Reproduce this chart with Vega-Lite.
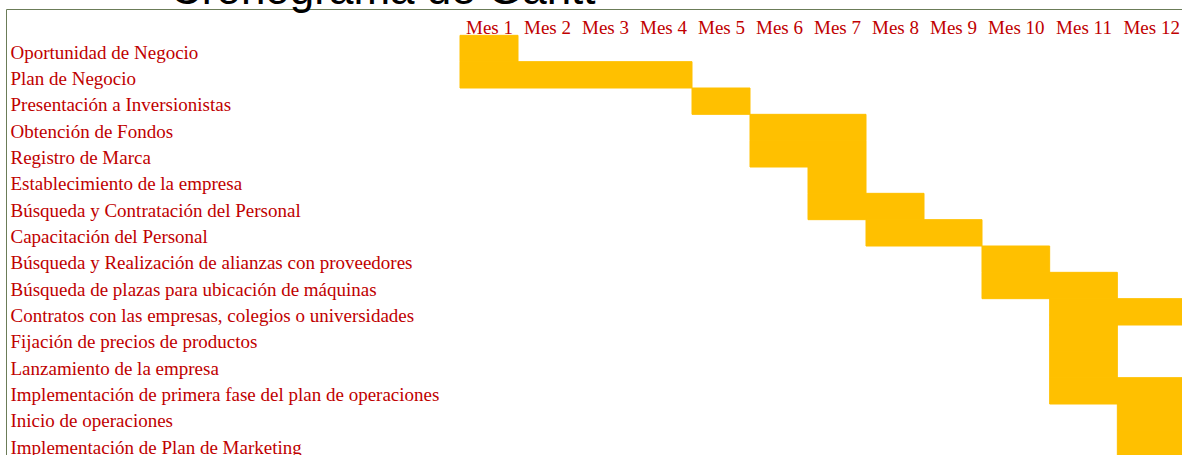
{
  "$schema": "https://vega.github.io/schema/vega-lite/v6.json",
  "autosize": {"type": "none"},
  "padding": {"left": 6, "top": 9, "right": 0, "bottom": 0},
  "width": 1180,
  "height": 474,
  "background": "white",
  "title": {
    "text": "Cronograma de Gantt",
    "font": "Liberation Sans",
    "fontSize": 44,
    "fontWeight": "normal",
    "color": "#000000",
    "anchor": "start",
    "frame": "group",
    "baseline": "alphabetic",
    "offset": 0,
    "dx": 164,
    "dy": 39
  },
  "data": {
    "values": [
      {"order": 1, "task": "Oportunidad de Negocio", "start": 0, "end": 1},
      {"order": 2, "task": "Plan de Negocio", "start": 0, "end": 4},
      {"order": 3, "task": "Presentación a Inversionistas", "start": 4, "end": 5},
      {"order": 4, "task": "Obtención de Fondos", "start": 5, "end": 7},
      {"order": 5, "task": "Registro de Marca", "start": 5, "end": 7},
      {"order": 6, "task": "Establecimiento de la empresa", "start": 6, "end": 7},
      {"order": 7, "task": "Búsqueda y Contratación del Personal", "start": 6, "end": 8},
      {"order": 8, "task": "Capacitación del Personal", "start": 7, "end": 9},
      {"order": 9, "task": "Búsqueda y Realización de alianzas con proveedores", "start": 9, "end": 10},
      {"order": 10, "task": "Búsqueda de plazas para ubicación de máquinas", "start": 9, "end": 11},
      {"order": 11, "task": "Contratos con las empresas, colegios o universidades", "start": 10, "end": 12},
      {"order": 12, "task": "Fijación de precios de productos", "start": 10, "end": 11},
      {"order": 13, "task": "Lanzamiento de la empresa", "start": 10, "end": 11},
      {"order": 14, "task": "Implementación de primera fase del plan de operaciones", "start": 10, "end": 12},
      {"order": 15, "task": "Inicio de operaciones", "start": 11, "end": 12},
      {"order": 16, "task": "Implementación de Plan de Marketing", "start": 11, "end": 12}
    ]
  },
  "mark": {"type": "bar", "color": "#FFC000", "stroke": "#FFC000", "strokeWidth": 1, "cornerRadius": 0},
  "encoding": {
    "x": {
      "field": "start",
      "type": "quantitative",
      "scale": {"domain": [0, 9, 12], "range": [454, 976, 1179], "nice": false, "zero": false},
      "axis": {
        "orient": "top",
        "title": null,
        "values": [0.5, 1.5, 2.5, 3.5, 4.5, 5.5, 6.5, 7.5, 8.5, 9.5, 10.5, 11.5],
        "labelExpr": "'Mes ' + (datum.value + 0.5)",
        "domain": false,
        "ticks": false,
        "tickSize": 0,
        "grid": false,
        "labelPadding": -24,
        "labelBaseline": "alphabetic",
        "labelFont": "Liberation Serif",
        "labelFontSize": 19,
        "labelColor": "#C00000",
        "labelOverlap": false,
        "labelFlush": false
      }
    },
    "x2": {"field": "end"},
    "y": {
      "field": "task",
      "type": "nominal",
      "sort": {"field": "order", "order": "ascending"},
      "scale": {"paddingInner": 0, "paddingOuter": 1},
      "axis": {
        "orient": "left",
        "title": null,
        "domain": false,
        "ticks": false,
        "tickSize": 0,
        "grid": false,
        "labelAlign": "left",
        "labelPadding": -4,
        "labelBaseline": "alphabetic",
        "labelOffset": 10,
        "labelLimit": 0,
        "labelFont": "Liberation Serif",
        "labelFontSize": 19,
        "labelColor": "#C00000",
        "labelOverlap": false
      }
    }
  },
  "config": {
    "view": {"stroke": "#6b7c58", "strokeWidth": 1}
  }
}
